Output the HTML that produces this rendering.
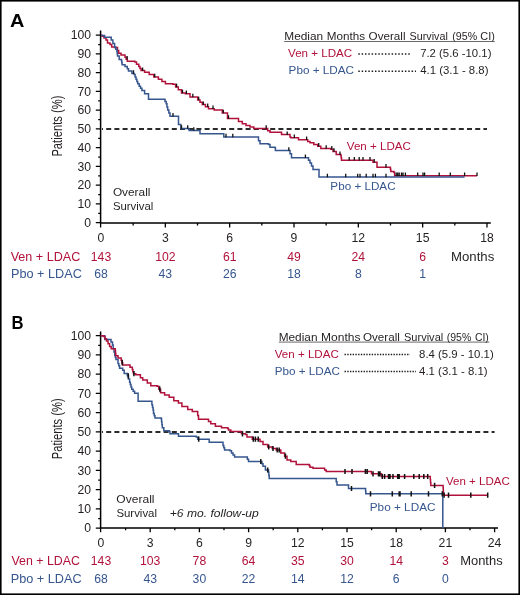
<!DOCTYPE html><html><head><meta charset="utf-8"><style>html,body{margin:0;padding:0;background:#fff;}svg{display:block;will-change:transform;}text{font-family:"Liberation Sans",sans-serif;}</style></head><body>
<svg width="520" height="595" viewBox="0 0 520 595">
<rect x="0" y="0" width="520" height="595" fill="#fff"/>
<g stroke="#000" fill="none">
<path d="M100.6,30.5 V223.75 M99.85,223 H490.8" stroke-width="1.5"/>
<path d="M100.6,222.7 H95.8 M100.6,203.95 H95.8 M100.6,185.2 H95.8 M100.6,166.45 H95.8 M100.6,147.7 H95.8 M100.6,128.95 H95.8 M100.6,110.2 H95.8 M100.6,91.45 H95.8 M100.6,72.7 H95.8 M100.6,53.95 H95.8 M100.6,35.2 H95.8 M100.6,213.32 H98.2 M100.6,194.57 H98.2 M100.6,175.82 H98.2 M100.6,157.07 H98.2 M100.6,138.32 H98.2 M100.6,119.57 H98.2 M100.6,100.82 H98.2 M100.6,82.07 H98.2 M100.6,63.32 H98.2 M100.6,44.57 H98.2 M100.6,223 V227.4 M165.33,223 V227.4 M229.66,223 V227.4 M293.99,223 V227.4 M358.32,223 V227.4 M422.65,223 V227.4 M486.98,223 V227.4 M133.16,223 V225.4 M197.5,223 V225.4 M261.82,223 V225.4 M326.15,223 V225.4 M390.48,223 V225.4 M454.81,223 V225.4 " stroke-width="1.3"/>
</g>
<line x1="102" y1="128.95" x2="487" y2="128.95" stroke="#2a2a2a" stroke-width="2" stroke-dasharray="5 3.2" stroke-dashoffset="4"/>
<path d="M101,35.2 L102,35.2 L102,36.2 L104,36.2 L104,38 L106,38 L106,40 L107.5,40 L107.5,43 L110,43 L110,44.6 L111.7,44.6 L111.7,46.9 L114.6,46.9 L114.6,47.5 L117.5,47.5 L117.5,50.4 L118.7,50.4 L118.7,53.3 L121,53.3 L121,55 L125,55 L125,57.3 L126.15,57.3 L126.15,59.3 L127.3,59.3 L127.3,61.3 L134.8,61.3 L134.8,61.9 L136.5,61.9 L136.5,64.2 L138.8,64.2 L138.8,66.5 L139.95,66.5 L139.95,68.55 L141.1,68.55 L141.1,70.6 L144.6,70.6 L144.6,72.3 L149.2,72.3 L149.2,74.6 L153.8,74.6 L153.8,76.9 L158.4,76.9 L158.4,79.2 L161.9,79.2 L161.9,81.5 L165.4,81.5 L165.4,83.8 L172.9,83.8 L172.9,84.3 L175.6,84.3 L175.6,87 L178.3,87 L178.3,89.7 L181.5,89.7 L181.5,93 L185.4,93 L185.4,93.8 L190,93.8 L190,97 L197.7,97 L197.7,100 L200,100 L200,102.3 L202.3,102.3 L202.3,104.6 L205.4,104.6 L205.4,106.7 L208.5,106.7 L208.5,108.8 L214.2,108.8 L214.2,110 L222.3,110 L222.3,113 L227.5,113 L227.5,114.2 L227.5,118.5 L237,118.5 L238.5,118.5 L238.5,121.5 L242.3,121.5 L242.3,123.8 L246,123.8 L246,125.4 L250,125.4 L250,127 L253.8,127 L253.8,128.5 L266.2,128.5 L267.7,128.5 L267.7,130.8 L270,130.8 L270,132.3 L280.8,132.3 L281.5,132.3 L281.5,134.6 L287.7,134.6 L290,134.6 L290,137 L290.8,137 L290.8,137.7 L297.7,137.7 L298.5,137.7 L298.5,139.7 L306,139.7 L307.7,139.7 L307.7,141.5 L310,141.5 L310,142.8 L313.8,142.8 L313.8,144.6 L317.7,144.6 L317.7,146.2 L320.8,146.2 L320.8,148.5 L330.8,148.5 L330.8,149.2 L333,149.2 L333,151.5 L336.2,151.5 L336.2,154.6 L340.8,154.6 L340.8,155.4 L341.15,155.4 L341.15,157.85 L341.5,157.85 L341.5,160.3 L371.5,160.3 L373,160.3 L373,162.3 L377,162.3 L377,163 L377,167.2 L390,167.2 L390.4,167.2 L390.4,169.35 L390.8,169.35 L390.8,171.5 L393.8,171.5 L393.8,172.3 L394.6,172.3 L394.6,175.8 L477,175.8" fill="none" stroke="#b1123b" stroke-width="1.5" stroke-linejoin="miter" stroke-linecap="butt"/>
<path d="M101,35.5 L104,35.5 L104.6,35.5 L104.6,37.3 L111,37.3 L111.2,37.3 L111.2,40 L112.9,40 L112.9,43.5 L114.6,43.5 L114.6,46.9 L115.75,46.9 L115.75,49.2 L116.9,49.2 L116.9,51.5 L117.2,51.5 L117.2,53.8 L117.5,53.8 L117.5,56.1 L119.2,56.1 L119.2,59.6 L121.5,59.6 L121.5,60.8 L121.8,60.8 L121.8,62.8 L122.1,62.8 L122.1,64.8 L125,64.8 L125,66.5 L127.3,66.5 L127.3,68.8 L128.5,68.8 L128.5,71.1 L131.9,71.1 L131.9,73.4 L134.2,73.4 L134.2,74.6 L135.1,74.6 L135.1,76.9 L136,76.9 L136,79.2 L136.85,79.2 L136.85,81.5 L137.7,81.5 L137.7,83.8 L139.2,83.8 L139.2,86.3 L140.55,86.3 L140.55,88.35 L141.9,88.35 L141.9,90.4 L144.6,90.4 L144.6,93.8 L148.5,93.8 L148.5,94.6 L148.5,99.2 L163.8,99.2 L165,99.2 L165,101.5 L166.2,101.5 L166.2,103.8 L166.95,103.8 L166.95,106.9 L167.7,106.9 L167.7,110 L168.85,110 L168.85,113.1 L170,113.1 L170,116.2 L178.5,116.2 L178.5,124.6 L180.8,124.6 L180.8,125.4 L180.8,128.5 L188.5,128.5 L188.5,128.9 L189.2,128.9 L189.2,130.5 L199.2,130.5 L200,130.5 L200,133.8 L223.8,133.8 L223.8,137 L257,137 L258.5,137 L258.5,140.8 L260,140.8 L260,143.8 L268.5,143.8 L268.5,144.6 L270,144.6 L270,147.2 L274.6,147.2 L274.6,147.5 L275.4,147.5 L275.4,150.5 L288.5,150.5 L290,150.5 L290,153.8 L291.5,153.8 L291.5,157.7 L307.7,157.7 L308.5,157.7 L308.5,160.3 L310,160.3 L310,163 L311.5,163 L311.5,166 L313,166 L313,169.5 L319,169.5 L319,177 L464.6,177" fill="none" stroke="#36568e" stroke-width="1.5" stroke-linejoin="miter" stroke-linecap="butt"/>
<path d="M133.5,73.7 V70.2 M173,116.5 V113 M181.5,128.8 V125.3 M187.7,128.8 V125.3 M193.8,130.8 V127.3 M226,137.3 V133.8 M232.8,137.3 V133.8 M288.8,150.8 V147.3 M305.4,158 V154.5 M327.4,177.3 V173.8 M345.7,177.3 V173.8 M357.7,177.3 V173.8 M360,177.3 V173.8 M366.2,177.3 V173.8 M373,177.3 V173.8 M375.4,177.3 V173.8 M386,177.3 V173.8 " stroke="#111" stroke-width="1.3" fill="none"/>
<path d="M127.15,59.6 V56.1 M142.6,70.9 V67.4 M154.7,77.2 V73.7 M176.6,87.3 V83.8 M182.5,93.3 V89.8 M186.4,94.1 V90.6 M192.8,97.3 V93.8 M198.7,100.3 V96.8 M203.3,104.9 V101.4 M207.7,107 V103.5 M213,109.1 V105.6 M223.3,113.3 V109.8 M228.5,118.8 V115.3 M266.2,128.8 V125.3 M287.2,134.9 V131.4 M294.3,138 V134.5 M306.6,140 V136.5 M318.7,146.5 V143 M326.2,148.8 V145.3 M331.8,149.5 V146 M334,151.8 V148.3 M340,154.9 V151.4 M349.2,160.6 V157.1 M354.3,160.6 V157.1 M359.2,160.6 V157.1 M363,160.6 V157.1 M370,160.6 V157.1 M374.2,162.6 V159.1 M386,167.5 V164 M396.2,176.1 V172.6 M397.7,176.1 V172.6 M399.2,176.1 V172.6 M401.5,176.1 V172.6 M403,176.1 V172.6 M405.4,176.1 V172.6 M417.7,176.1 V172.6 M423,176.1 V172.6 M424.6,176.1 V172.6 M439.2,176.1 V172.6 M450.3,176.1 V172.6 M464.6,176.1 V172.6 M477,176.1 V172.6 " stroke="#111" stroke-width="1.3" fill="none"/>
<text x="91" y="226.8" font-size="12.2" fill="#231f20" text-anchor="end" font-weight="normal" font-style="normal">0</text>
<text x="91" y="208.05" font-size="12.2" fill="#231f20" text-anchor="end" font-weight="normal" font-style="normal">10</text>
<text x="91" y="189.3" font-size="12.2" fill="#231f20" text-anchor="end" font-weight="normal" font-style="normal">20</text>
<text x="91" y="170.55" font-size="12.2" fill="#231f20" text-anchor="end" font-weight="normal" font-style="normal">30</text>
<text x="91" y="151.8" font-size="12.2" fill="#231f20" text-anchor="end" font-weight="normal" font-style="normal">40</text>
<text x="91" y="133.05" font-size="12.2" fill="#231f20" text-anchor="end" font-weight="normal" font-style="normal">50</text>
<text x="91" y="114.3" font-size="12.2" fill="#231f20" text-anchor="end" font-weight="normal" font-style="normal">60</text>
<text x="91" y="95.55" font-size="12.2" fill="#231f20" text-anchor="end" font-weight="normal" font-style="normal">70</text>
<text x="91" y="76.8" font-size="12.2" fill="#231f20" text-anchor="end" font-weight="normal" font-style="normal">80</text>
<text x="91" y="58.05" font-size="12.2" fill="#231f20" text-anchor="end" font-weight="normal" font-style="normal">90</text>
<text x="91" y="39.3" font-size="12.2" fill="#231f20" text-anchor="end" font-weight="normal" font-style="normal">100</text>
<text x="101" y="242.3" font-size="12.2" fill="#231f20" text-anchor="middle" font-weight="normal" font-style="normal">0</text>
<text x="165.33" y="242.3" font-size="12.2" fill="#231f20" text-anchor="middle" font-weight="normal" font-style="normal">3</text>
<text x="229.66" y="242.3" font-size="12.2" fill="#231f20" text-anchor="middle" font-weight="normal" font-style="normal">6</text>
<text x="293.99" y="242.3" font-size="12.2" fill="#231f20" text-anchor="middle" font-weight="normal" font-style="normal">9</text>
<text x="358.32" y="242.3" font-size="12.2" fill="#231f20" text-anchor="middle" font-weight="normal" font-style="normal">12</text>
<text x="422.65" y="242.3" font-size="12.2" fill="#231f20" text-anchor="middle" font-weight="normal" font-style="normal">15</text>
<text x="486.98" y="242.3" font-size="12.2" fill="#231f20" text-anchor="middle" font-weight="normal" font-style="normal">18</text>
<text x="10.68" y="261" font-size="12.2" fill="#b1123b" text-anchor="start" font-weight="normal" font-style="normal" textLength="69.64" lengthAdjust="spacingAndGlyphs">Ven + LDAC</text>
<text x="10.95" y="278.3" font-size="12.2" fill="#36568e" text-anchor="start" font-weight="normal" font-style="normal" textLength="70.86" lengthAdjust="spacingAndGlyphs">Pbo + LDAC</text>
<text x="101" y="261" font-size="12.2" fill="#b1123b" text-anchor="middle" font-weight="normal" font-style="normal">143</text>
<text x="165.33" y="261" font-size="12.2" fill="#b1123b" text-anchor="middle" font-weight="normal" font-style="normal">102</text>
<text x="229.66" y="261" font-size="12.2" fill="#b1123b" text-anchor="middle" font-weight="normal" font-style="normal">61</text>
<text x="293.99" y="261" font-size="12.2" fill="#b1123b" text-anchor="middle" font-weight="normal" font-style="normal">49</text>
<text x="358.32" y="261" font-size="12.2" fill="#b1123b" text-anchor="middle" font-weight="normal" font-style="normal">24</text>
<text x="422.65" y="261" font-size="12.2" fill="#b1123b" text-anchor="middle" font-weight="normal" font-style="normal">6</text>
<text x="101" y="278.3" font-size="12.2" fill="#36568e" text-anchor="middle" font-weight="normal" font-style="normal">68</text>
<text x="165.33" y="278.3" font-size="12.2" fill="#36568e" text-anchor="middle" font-weight="normal" font-style="normal">43</text>
<text x="229.66" y="278.3" font-size="12.2" fill="#36568e" text-anchor="middle" font-weight="normal" font-style="normal">26</text>
<text x="293.99" y="278.3" font-size="12.2" fill="#36568e" text-anchor="middle" font-weight="normal" font-style="normal">18</text>
<text x="358.32" y="278.3" font-size="12.2" fill="#36568e" text-anchor="middle" font-weight="normal" font-style="normal">8</text>
<text x="422.65" y="278.3" font-size="12.2" fill="#36568e" text-anchor="middle" font-weight="normal" font-style="normal">1</text>
<text x="451.09" y="261" font-size="12.2" fill="#231f20" text-anchor="start" font-weight="normal" font-style="normal" textLength="43.19" lengthAdjust="spacingAndGlyphs">Months</text>
<text x="9.98" y="26.8" font-size="18" fill="#000" text-anchor="start" font-weight="bold" font-style="normal" textLength="14.38" lengthAdjust="spacingAndGlyphs">A</text>
<text transform="translate(62,126.1) rotate(-90)" x="0" y="0" font-size="14" fill="#231f20" text-anchor="middle" textLength="61" lengthAdjust="spacingAndGlyphs">Patients (%)</text>
<text x="112.91" y="195.8" font-size="11.8" fill="#231f20" text-anchor="start" font-weight="normal" font-style="normal" textLength="37.5" lengthAdjust="spacingAndGlyphs">Overall</text>
<text x="112.93" y="209.5" font-size="11.8" fill="#231f20" text-anchor="start" font-weight="normal" font-style="normal" textLength="40.35" lengthAdjust="spacingAndGlyphs">Survival</text>
<text x="284.28" y="40.2" font-size="11.6" fill="#231f20" text-anchor="start" font-weight="normal" font-style="normal" textLength="38.88" lengthAdjust="spacingAndGlyphs">Median</text>
<text x="326.72" y="40.2" font-size="11.6" fill="#231f20" text-anchor="start" font-weight="normal" font-style="normal" textLength="38.3" lengthAdjust="spacingAndGlyphs">Months</text>
<text x="368.61" y="40.2" font-size="11.6" fill="#231f20" text-anchor="start" font-weight="normal" font-style="normal" textLength="36.87" lengthAdjust="spacingAndGlyphs">Overall</text>
<text x="409.54" y="40.2" font-size="11.6" fill="#231f20" text-anchor="start" font-weight="normal" font-style="normal" textLength="38.3" lengthAdjust="spacingAndGlyphs">Survival</text>
<text x="452.33" y="40.2" font-size="11.6" fill="#231f20" text-anchor="start" font-weight="normal" font-style="normal" textLength="24.77" lengthAdjust="spacingAndGlyphs">(95%</text>
<text x="480.36" y="40.2" font-size="11.6" fill="#231f20" text-anchor="start" font-weight="normal" font-style="normal" textLength="14.54" lengthAdjust="spacingAndGlyphs">CI)</text>
<line x1="284.2" y1="41.5" x2="494.7" y2="41.5" stroke="#444" stroke-width="0.8"/>
<text x="288.07" y="56.8" font-size="11.3" fill="#b1123b" text-anchor="start" font-weight="normal" font-style="normal" textLength="64.13" lengthAdjust="spacingAndGlyphs">Ven + LDAC</text>
<text x="288.58" y="74.1" font-size="11.3" fill="#36568e" text-anchor="start" font-weight="normal" font-style="normal" textLength="65.43" lengthAdjust="spacingAndGlyphs">Pbo + LDAC</text>
<line x1="358.3" y1="54.1" x2="410.5" y2="54.1" stroke="#231f20" stroke-width="1.5" stroke-dasharray="1.5 1.83"/>
<line x1="358.3" y1="71.2" x2="416" y2="71.2" stroke="#231f20" stroke-width="1.5" stroke-dasharray="1.5 1.83"/>
<text x="420.16" y="56.8" font-size="11.7" fill="#231f20" text-anchor="start" font-weight="normal" font-style="normal" textLength="71.27" lengthAdjust="spacingAndGlyphs">7.2 (5.6 -10.1)</text>
<text x="420.19" y="74.1" font-size="11.7" fill="#231f20" text-anchor="start" font-weight="normal" font-style="normal" textLength="68.26" lengthAdjust="spacingAndGlyphs">4.1 (3.1 - 8.8)</text>
<text x="346.85" y="150.1" font-size="11.5" fill="#b1123b" text-anchor="start" font-weight="normal" font-style="normal" textLength="64" lengthAdjust="spacingAndGlyphs">Ven + LDAC</text>
<text x="330.39" y="190.4" font-size="11.5" fill="#36568e" text-anchor="start" font-weight="normal" font-style="normal" textLength="65.22" lengthAdjust="spacingAndGlyphs">Pbo + LDAC</text>
<g stroke="#000" fill="none">
<path d="M100.6,331.5 V528.65 M99.85,527.9 H498" stroke-width="1.5"/>
<path d="M100.6,528.2 H95.8 M100.6,508.95 H95.8 M100.6,489.7 H95.8 M100.6,470.45 H95.8 M100.6,451.2 H95.8 M100.6,431.95 H95.8 M100.6,412.7 H95.8 M100.6,393.45 H95.8 M100.6,374.2 H95.8 M100.6,354.95 H95.8 M100.6,335.7 H95.8 M100.6,518.58 H98.2 M100.6,499.33 H98.2 M100.6,480.08 H98.2 M100.6,460.83 H98.2 M100.6,441.58 H98.2 M100.6,422.33 H98.2 M100.6,403.08 H98.2 M100.6,383.83 H98.2 M100.6,364.58 H98.2 M100.6,345.33 H98.2 M100.6,527.9 V532.3 M150.2,527.9 V532.3 M199.4,527.9 V532.3 M248.6,527.9 V532.3 M297.8,527.9 V532.3 M347,527.9 V532.3 M396.2,527.9 V532.3 M445.4,527.9 V532.3 M494.6,527.9 V532.3 M125.6,527.9 V530.3 M174.8,527.9 V530.3 M224,527.9 V530.3 M273.2,527.9 V530.3 M322.4,527.9 V530.3 M371.6,527.9 V530.3 M420.8,527.9 V530.3 M470,527.9 V530.3 " stroke-width="1.3"/>
</g>
<line x1="102" y1="431.95" x2="494.6" y2="431.95" stroke="#2a2a2a" stroke-width="2" stroke-dasharray="5 3.2" stroke-dashoffset="4"/>
<path d="M100.7,335.7 L104.6,335.7 L104.8,335.7 L104.8,339.5 L110.6,339.5 L111,339.5 L111,342 L112.5,342 L112.5,345 L113.2,345 L113.2,348.8 L114,348.8 L114,352 L114.8,352 L114.8,355.5 L115.4,355.5 L115.4,357.5 L116,357.5 L116,359.5 L118,359.5 L118,363.4 L118.8,363.4 L118.8,365.85 L119.6,365.85 L119.6,368.3 L122.7,368.3 L122.7,370.3 L124.2,370.3 L124.2,373.4 L127.3,373.4 L127.3,375.8 L128.45,375.8 L128.45,379.05 L129.6,379.05 L129.6,382.3 L130.3,382.3 L130.3,384.6 L131,384.6 L131,386.9 L131.7,386.9 L131.7,389.2 L133.15,389.2 L133.15,391.25 L134.6,391.25 L134.6,393.3 L138.1,393.3 L138.1,395.6 L138.1,401.3 L150.2,401.3 L151.9,401.3 L151.9,404.8 L152.5,404.8 L152.5,407.4 L153.1,407.4 L153.1,410 L153.5,410 L153.5,413.5 L154.25,413.5 L154.25,415.75 L155,415.75 L155,418 L161.2,418 L161.2,418.8 L161.57,418.8 L161.57,421.77 L161.93,421.77 L161.93,424.73 L162.3,424.73 L162.3,427.7 L163.8,427.7 L163.8,430.8 L169.2,430.8 L169.2,431.5 L170,431.5 L170,433.8 L177,433.8 L178.5,433.8 L178.5,436.2 L196.2,436.2 L196.2,437 L197.7,437 L197.7,439.2 L207.7,439.2 L209.2,439.2 L209.2,442.3 L220.8,442.3 L223,442.3 L223,445.4 L223.8,445.4 L223.8,447.7 L224.6,447.7 L224.6,450 L230,450 L230,450.8 L231.5,450.8 L231.5,453 L233.05,453 L233.05,455 L234.6,455 L234.6,457 L246.2,457 L247.35,457 L247.35,459.25 L248.5,459.25 L248.5,461.5 L260.8,461.5 L261.9,461.5 L261.9,463.85 L263,463.85 L263,466.2 L265.4,466.2 L265.4,470 L268.5,470 L268.5,472.3 L268.85,472.3 L268.85,475.4 L269.2,475.4 L269.2,478.5 L335.4,478.5 L336.2,478.5 L336.2,481.75 L337,481.75 L337,485 L347.7,485 L348.5,485 L348.5,488.5 L365.4,488.5 L365.6,488.5 L365.6,491.15 L365.8,491.15 L365.8,493.8 L442.8,493.8 L442.8,527.9" fill="none" stroke="#36568e" stroke-width="1.5" stroke-linejoin="miter" stroke-linecap="butt"/>
<path d="M100.7,335.7 L103.5,335.7 L103.5,336.5 L105,336.5 L105,338.75 L106.5,338.75 L106.5,341 L108.05,341 L108.05,343.75 L109.6,343.75 L109.6,346.5 L111.2,346.5 L111.2,348.8 L115,348.8 L115.27,348.8 L115.27,351.1 L115.53,351.1 L115.53,353.4 L115.8,353.4 L115.8,355.7 L118,355.7 L118,358 L121.2,358 L121.2,360.3 L121.95,360.3 L121.95,362.65 L122.7,362.65 L122.7,365 L128,365 L130,365 L130,367.3 L132.3,367.3 L132.3,369.6 L132.9,369.6 L132.9,371.65 L133.5,371.65 L133.5,373.7 L135.8,373.7 L135.8,374.8 L140.4,374.8 L140.4,377.7 L142.7,377.7 L142.7,380 L147.3,380 L147.3,382.9 L150.8,382.9 L150.8,385.8 L157.1,385.8 L157.1,386.3 L158.8,386.3 L158.8,389.2 L160.6,389.2 L160.6,392.7 L164.6,392.7 L164.6,395 L169.2,395 L169.2,397.3 L173.8,397.3 L173.8,400.8 L178.4,400.8 L178.4,403.1 L181.9,403.1 L181.9,406.5 L187.7,406.5 L187.7,409.4 L192.3,409.4 L192.3,411.5 L197.7,411.5 L197.7,415.4 L198.5,415.4 L198.5,419.2 L206.2,419.2 L208.5,419.2 L208.5,421.5 L210.8,421.5 L210.8,423.8 L215.4,423.8 L215.4,426.2 L221.5,426.2 L221.5,427.7 L227.7,427.7 L227.7,428.5 L228.5,428.5 L228.5,430 L230.8,430 L230.8,431.5 L240.8,431.5 L241.5,431.5 L241.5,433.8 L245.4,433.8 L245.4,434.6 L247,434.6 L247,437 L252.3,437 L252.3,439.2 L260,439.2 L260,441.5 L263,441.5 L263,444.6 L267.7,444.6 L267.7,447 L272.3,447 L272.3,448.5 L276.2,448.5 L276.2,450 L280.8,450 L280.8,453 L284.6,453 L284.6,456.2 L287,456.2 L287,460 L290.8,460 L290.8,461.5 L296.2,461.5 L296.2,464.6 L309.2,464.6 L309.2,465.4 L310,465.4 L310,467.2 L313,467.2 L313,468.2 L323,468.2 L324.6,468.2 L324.6,470 L326.2,470 L326.2,471.5 L370,471.5 L371.5,471.5 L371.5,473.8 L379.2,473.8 L381.5,473.8 L381.5,476.5 L430,476.5 L430.27,476.5 L430.27,479.47 L430.53,479.47 L430.53,482.43 L430.8,482.43 L430.8,485.4 L443,485.4 L443.12,485.4 L443.12,487.85 L443.25,487.85 L443.25,490.3 L443.38,490.3 L443.38,492.75 L443.5,492.75 L443.5,495.2 L487.7,495.2" fill="none" stroke="#b1123b" stroke-width="1.5" stroke-linejoin="miter" stroke-linecap="butt"/>
<path d="M128.3,378.4 V373.2 M198.7,441.8 V436.6 M260.8,464.1 V458.9 M267.7,472.6 V467.4 M351.5,491.1 V485.9 M370.5,496.4 V491.2 M392.3,496.4 V491.2 M399.2,496.4 V491.2 M400,496.4 V491.2 M411.2,496.4 V491.2 M428.5,496.4 V491.2 M442.3,496.4 V491.2 " stroke="#111" stroke-width="1.5" fill="none"/>
<path d="M122.2,365.25 V360.05 M133.9,376.3 V371.1 M159.8,391.8 V386.6 M242.5,436.4 V431.2 M253.3,441.8 V436.6 M255.4,441.8 V436.6 M258.2,441.8 V436.6 M268.7,449.6 V444.4 M273,451.1 V445.9 M277.2,452.6 V447.4 M279.2,452.6 V447.4 M285.4,458.8 V453.6 M345,474.1 V468.9 M352,474.1 V468.9 M365.4,474.1 V468.9 M367.2,474.1 V468.9 M373,476.4 V471.2 M378.5,476.4 V471.2 M380,476.4 V471.2 M382.3,479.1 V473.9 M384.6,479.1 V473.9 M388.5,479.1 V473.9 M390,479.1 V473.9 M393,479.1 V473.9 M397.7,479.1 V473.9 M399.2,479.1 V473.9 M404.6,479.1 V473.9 M413.8,479.1 V473.9 M419.2,479.1 V473.9 M423.8,479.1 V473.9 M427.7,479.1 V473.9 M434.6,488 V482.8 M444.12,497.8 V492.6 M448.5,497.8 V492.6 M470.8,497.8 V492.6 M487.7,497.8 V492.6 " stroke="#111" stroke-width="1.5" fill="none"/>
<text x="91" y="532.3" font-size="12.2" fill="#231f20" text-anchor="end" font-weight="normal" font-style="normal">0</text>
<text x="91" y="513.05" font-size="12.2" fill="#231f20" text-anchor="end" font-weight="normal" font-style="normal">10</text>
<text x="91" y="493.8" font-size="12.2" fill="#231f20" text-anchor="end" font-weight="normal" font-style="normal">20</text>
<text x="91" y="474.55" font-size="12.2" fill="#231f20" text-anchor="end" font-weight="normal" font-style="normal">30</text>
<text x="91" y="455.3" font-size="12.2" fill="#231f20" text-anchor="end" font-weight="normal" font-style="normal">40</text>
<text x="91" y="436.05" font-size="12.2" fill="#231f20" text-anchor="end" font-weight="normal" font-style="normal">50</text>
<text x="91" y="416.8" font-size="12.2" fill="#231f20" text-anchor="end" font-weight="normal" font-style="normal">60</text>
<text x="91" y="397.55" font-size="12.2" fill="#231f20" text-anchor="end" font-weight="normal" font-style="normal">70</text>
<text x="91" y="378.3" font-size="12.2" fill="#231f20" text-anchor="end" font-weight="normal" font-style="normal">80</text>
<text x="91" y="359.05" font-size="12.2" fill="#231f20" text-anchor="end" font-weight="normal" font-style="normal">90</text>
<text x="91" y="339.8" font-size="12.2" fill="#231f20" text-anchor="end" font-weight="normal" font-style="normal">100</text>
<text x="101" y="547.3" font-size="12.2" fill="#231f20" text-anchor="middle" font-weight="normal" font-style="normal">0</text>
<text x="150.2" y="547.3" font-size="12.2" fill="#231f20" text-anchor="middle" font-weight="normal" font-style="normal">3</text>
<text x="199.4" y="547.3" font-size="12.2" fill="#231f20" text-anchor="middle" font-weight="normal" font-style="normal">6</text>
<text x="248.6" y="547.3" font-size="12.2" fill="#231f20" text-anchor="middle" font-weight="normal" font-style="normal">9</text>
<text x="297.8" y="547.3" font-size="12.2" fill="#231f20" text-anchor="middle" font-weight="normal" font-style="normal">12</text>
<text x="347" y="547.3" font-size="12.2" fill="#231f20" text-anchor="middle" font-weight="normal" font-style="normal">15</text>
<text x="396.2" y="547.3" font-size="12.2" fill="#231f20" text-anchor="middle" font-weight="normal" font-style="normal">18</text>
<text x="445.4" y="547.3" font-size="12.2" fill="#231f20" text-anchor="middle" font-weight="normal" font-style="normal">21</text>
<text x="494.6" y="547.3" font-size="12.2" fill="#231f20" text-anchor="middle" font-weight="normal" font-style="normal">24</text>
<text x="11.5" y="565.4" font-size="12.2" fill="#b1123b" text-anchor="start" font-weight="normal" font-style="normal" textLength="68.43" lengthAdjust="spacingAndGlyphs">Ven + LDAC</text>
<text x="10.74" y="583.3" font-size="12.2" fill="#36568e" text-anchor="start" font-weight="normal" font-style="normal" textLength="70.86" lengthAdjust="spacingAndGlyphs">Pbo + LDAC</text>
<text x="101" y="565.4" font-size="12.2" fill="#b1123b" text-anchor="middle" font-weight="normal" font-style="normal">143</text>
<text x="150.2" y="565.4" font-size="12.2" fill="#b1123b" text-anchor="middle" font-weight="normal" font-style="normal">103</text>
<text x="199.4" y="565.4" font-size="12.2" fill="#b1123b" text-anchor="middle" font-weight="normal" font-style="normal">78</text>
<text x="248.6" y="565.4" font-size="12.2" fill="#b1123b" text-anchor="middle" font-weight="normal" font-style="normal">64</text>
<text x="297.8" y="565.4" font-size="12.2" fill="#b1123b" text-anchor="middle" font-weight="normal" font-style="normal">35</text>
<text x="347" y="565.4" font-size="12.2" fill="#b1123b" text-anchor="middle" font-weight="normal" font-style="normal">30</text>
<text x="396.2" y="565.4" font-size="12.2" fill="#b1123b" text-anchor="middle" font-weight="normal" font-style="normal">14</text>
<text x="445.4" y="565.4" font-size="12.2" fill="#b1123b" text-anchor="middle" font-weight="normal" font-style="normal">3</text>
<text x="101" y="583.3" font-size="12.2" fill="#36568e" text-anchor="middle" font-weight="normal" font-style="normal">68</text>
<text x="150.2" y="583.3" font-size="12.2" fill="#36568e" text-anchor="middle" font-weight="normal" font-style="normal">43</text>
<text x="199.4" y="583.3" font-size="12.2" fill="#36568e" text-anchor="middle" font-weight="normal" font-style="normal">30</text>
<text x="248.6" y="583.3" font-size="12.2" fill="#36568e" text-anchor="middle" font-weight="normal" font-style="normal">22</text>
<text x="297.8" y="583.3" font-size="12.2" fill="#36568e" text-anchor="middle" font-weight="normal" font-style="normal">14</text>
<text x="347" y="583.3" font-size="12.2" fill="#36568e" text-anchor="middle" font-weight="normal" font-style="normal">12</text>
<text x="396.2" y="583.3" font-size="12.2" fill="#36568e" text-anchor="middle" font-weight="normal" font-style="normal">6</text>
<text x="445.4" y="583.3" font-size="12.2" fill="#36568e" text-anchor="middle" font-weight="normal" font-style="normal">0</text>
<text x="460.21" y="565.4" font-size="12.2" fill="#231f20" text-anchor="start" font-weight="normal" font-style="normal" textLength="42.41" lengthAdjust="spacingAndGlyphs">Months</text>
<text x="11.56" y="328.5" font-size="17.5" fill="#000" text-anchor="start" font-weight="bold" font-style="normal" textLength="12.02" lengthAdjust="spacingAndGlyphs">B</text>
<text transform="translate(62,428.8) rotate(-90)" x="0" y="0" font-size="14" fill="#231f20" text-anchor="middle" textLength="61" lengthAdjust="spacingAndGlyphs">Patients (%)</text>
<text x="116.39" y="503.3" font-size="11.8" fill="#231f20" text-anchor="start" font-weight="normal" font-style="normal" textLength="38.18" lengthAdjust="spacingAndGlyphs">Overall</text>
<text x="116.38" y="517.3" font-size="11.8" fill="#231f20" text-anchor="start" font-weight="normal" font-style="normal" textLength="40.65" lengthAdjust="spacingAndGlyphs">Survival</text>
<text x="278.67" y="340.8" font-size="11.6" fill="#231f20" text-anchor="start" font-weight="normal" font-style="normal" textLength="38.85" lengthAdjust="spacingAndGlyphs">Median</text>
<text x="321.12" y="340.8" font-size="11.6" fill="#231f20" text-anchor="start" font-weight="normal" font-style="normal" textLength="39.41" lengthAdjust="spacingAndGlyphs">Months</text>
<text x="362.99" y="340.8" font-size="11.6" fill="#231f20" text-anchor="start" font-weight="normal" font-style="normal" textLength="36.91" lengthAdjust="spacingAndGlyphs">Overall</text>
<text x="403.96" y="340.8" font-size="11.6" fill="#231f20" text-anchor="start" font-weight="normal" font-style="normal" textLength="39.29" lengthAdjust="spacingAndGlyphs">Survival</text>
<text x="446.8" y="340.8" font-size="11.6" fill="#231f20" text-anchor="start" font-weight="normal" font-style="normal" textLength="24.5" lengthAdjust="spacingAndGlyphs">(95%</text>
<text x="474.93" y="340.8" font-size="11.6" fill="#231f20" text-anchor="start" font-weight="normal" font-style="normal" textLength="13.93" lengthAdjust="spacingAndGlyphs">CI)</text>
<line x1="278.8" y1="342.1" x2="489.3" y2="342.1" stroke="#444" stroke-width="0.8"/>
<text x="274.8" y="358" font-size="11.3" fill="#b1123b" text-anchor="start" font-weight="normal" font-style="normal" textLength="64" lengthAdjust="spacingAndGlyphs">Ven + LDAC</text>
<text x="274.71" y="375" font-size="11.3" fill="#36568e" text-anchor="start" font-weight="normal" font-style="normal" textLength="65.22" lengthAdjust="spacingAndGlyphs">Pbo + LDAC</text>
<line x1="344.5" y1="354.6" x2="410" y2="354.6" stroke="#231f20" stroke-width="1.5" stroke-dasharray="1.4 1.32"/>
<line x1="344.5" y1="371.5" x2="416" y2="371.5" stroke="#231f20" stroke-width="1.5" stroke-dasharray="1.4 1.32"/>
<text x="419.1" y="358" font-size="11.7" fill="#231f20" text-anchor="start" font-weight="normal" font-style="normal" textLength="74.6" lengthAdjust="spacingAndGlyphs">8.4 (5.9 - 10.1)</text>
<text x="419.07" y="375" font-size="11.7" fill="#231f20" text-anchor="start" font-weight="normal" font-style="normal" textLength="68.56" lengthAdjust="spacingAndGlyphs">4.1 (3.1 - 8.1)</text>
<text x="445.95" y="485.4" font-size="11.5" fill="#b1123b" text-anchor="start" font-weight="normal" font-style="normal" textLength="63.84" lengthAdjust="spacingAndGlyphs">Ven + LDAC</text>
<text x="369.78" y="511.2" font-size="11.5" fill="#36568e" text-anchor="start" font-weight="normal" font-style="normal" textLength="65.76" lengthAdjust="spacingAndGlyphs">Pbo + LDAC</text>
<text x="169.79" y="516.8" font-size="11.5" fill="#231f20" text-anchor="start" font-weight="normal" font-style="italic" textLength="89.03" lengthAdjust="spacingAndGlyphs">+6 mo. follow-up</text>
<rect x="0" y="0" width="520" height="595" fill="none" stroke="#000" stroke-width="3.2"/>
</svg></body></html>
